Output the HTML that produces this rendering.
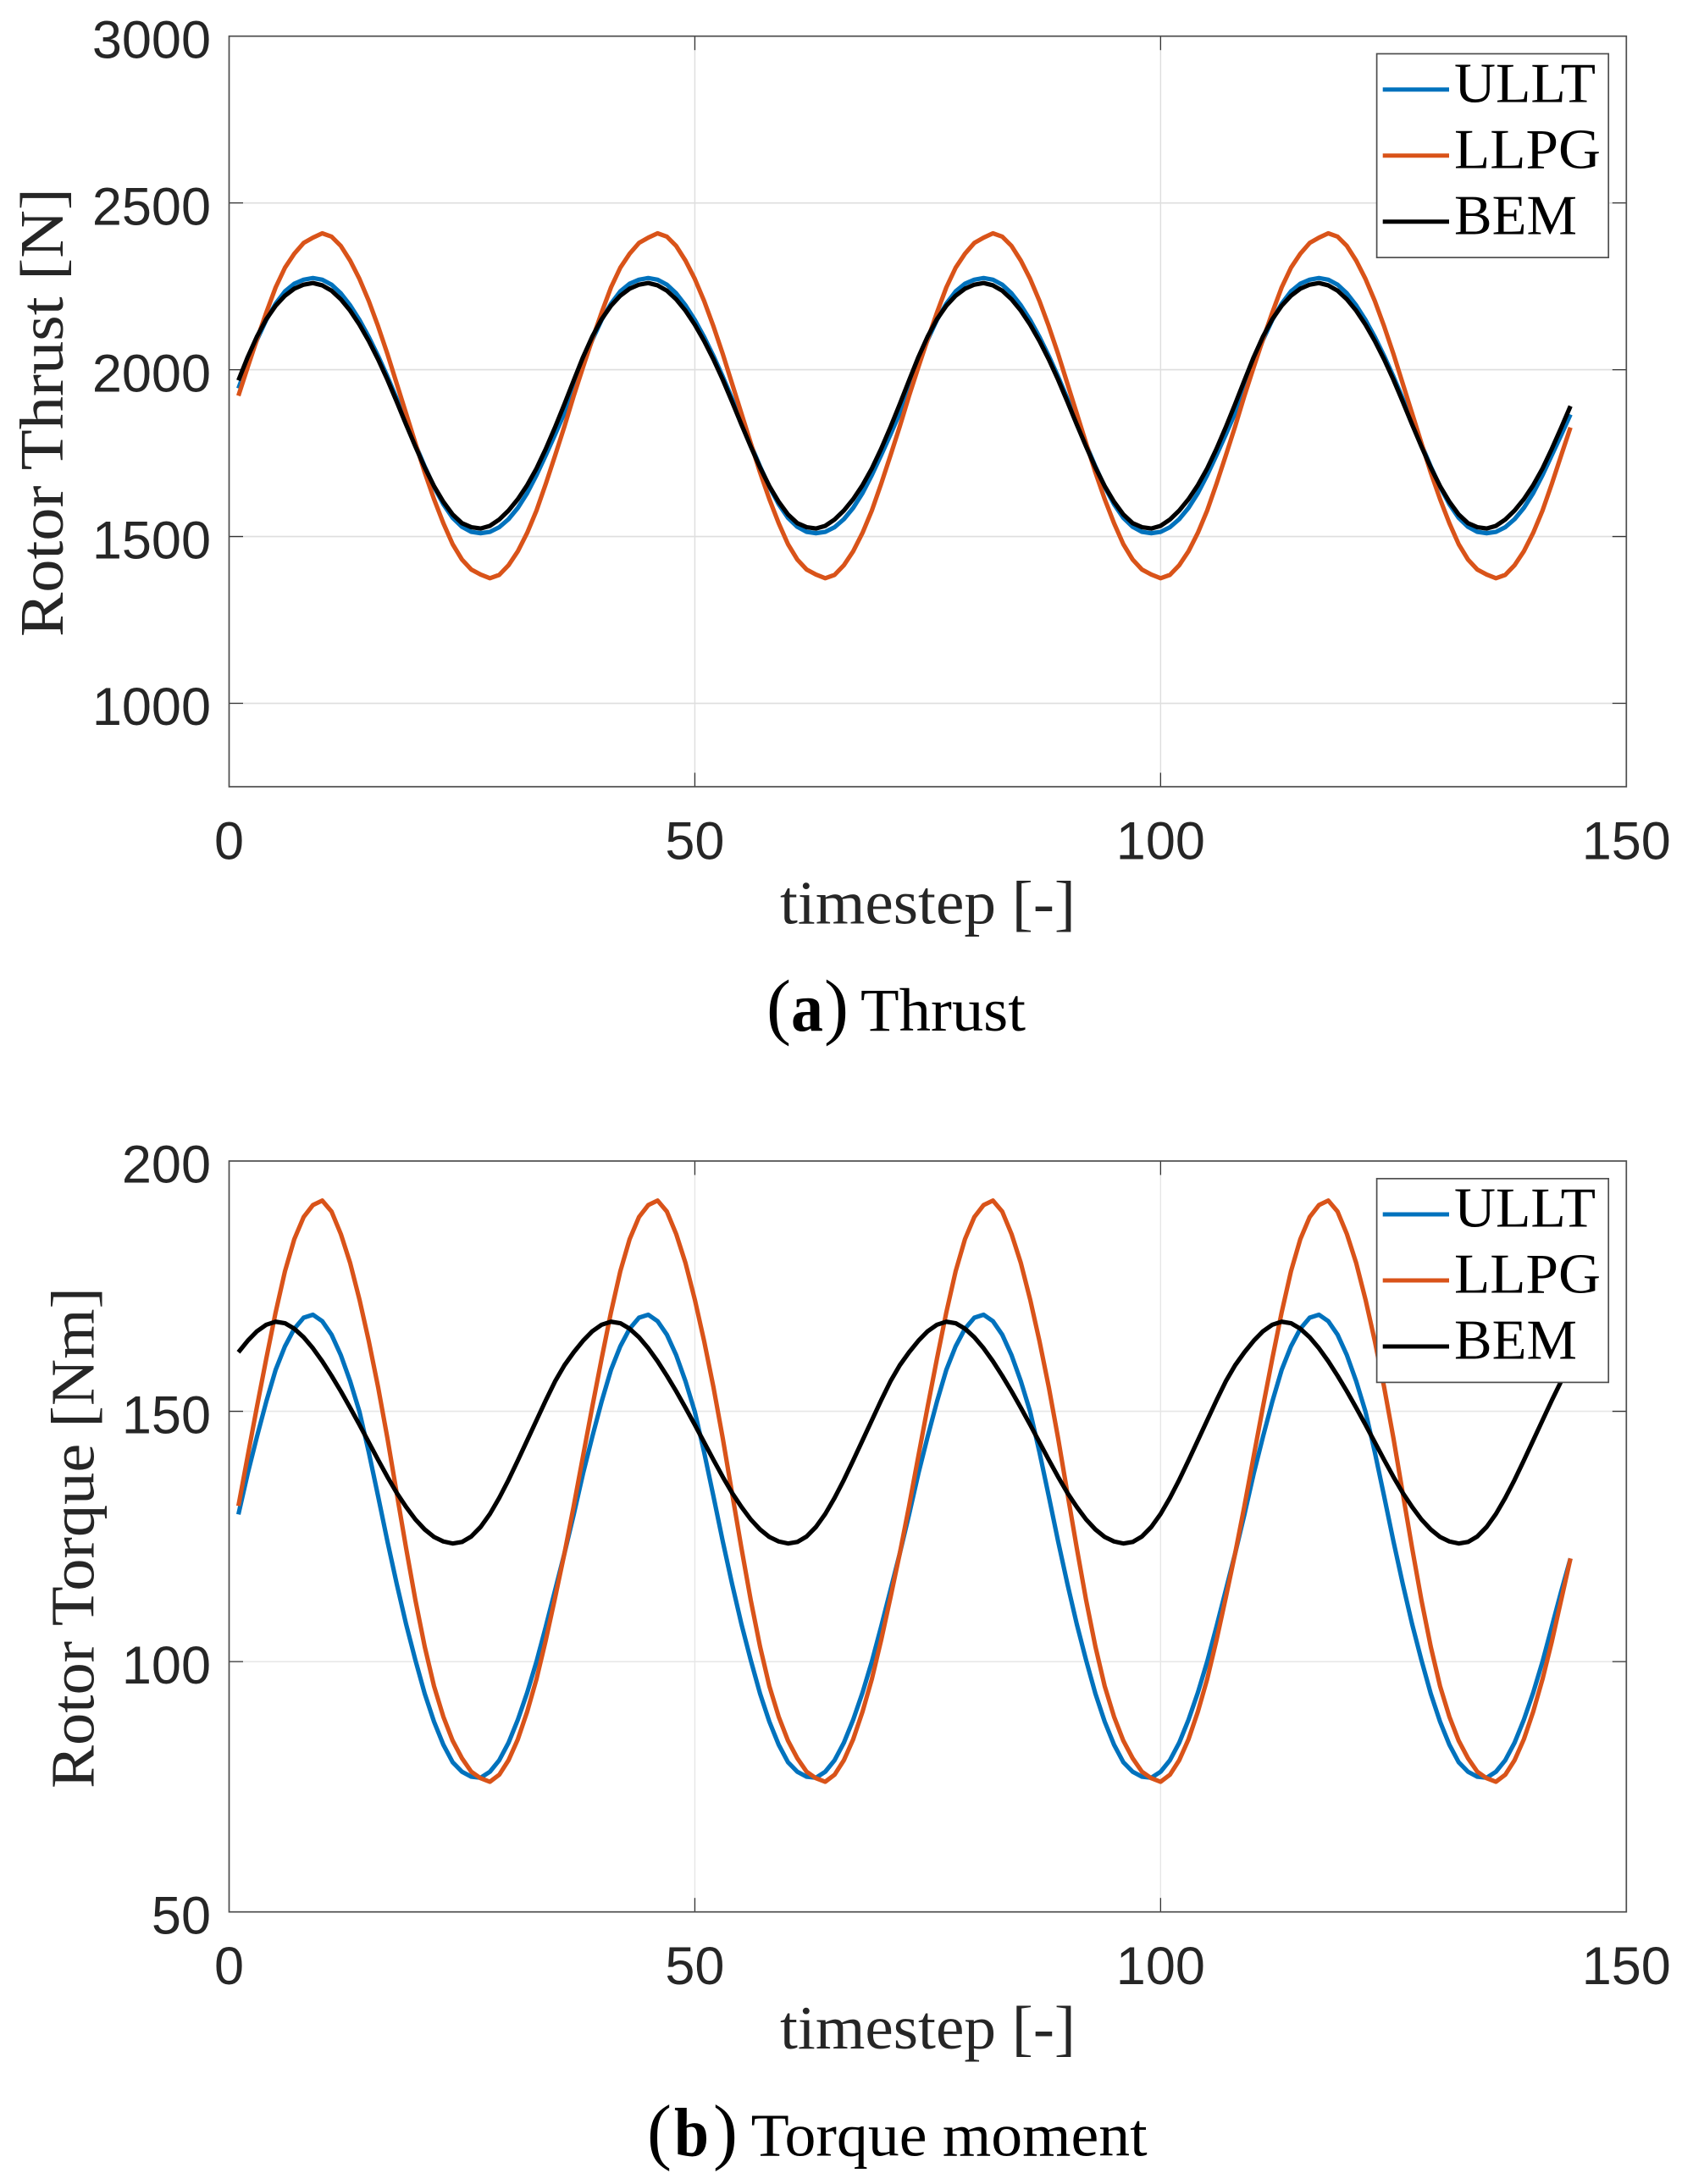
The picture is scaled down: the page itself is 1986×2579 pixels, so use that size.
<!DOCTYPE html>
<html lang="en">
<head>
<meta charset="utf-8">
<title>Rotor thrust and torque moment</title>
<style>
html,body{margin:0;padding:0;background:#fff;}
svg{display:block;}
.tick{font-family:"Liberation Sans",Arial,sans-serif;font-size:63px;fill:#262626;}
.label{font-family:"Liberation Serif","Times New Roman",serif;font-size:73px;fill:#262626;}
.legend-text{font-family:"Liberation Serif","Times New Roman",serif;font-size:67px;fill:#000;}
.caption{font-family:"Liberation Serif","Times New Roman",serif;font-size:72px;fill:#000;}
.paren{font-family:"Liberation Serif","Times New Roman",serif;font-size:87px;fill:#000;}
.letter{font-family:"Liberation Serif","Times New Roman",serif;font-size:82px;font-weight:bold;fill:#000;}
</style>
</head>
<body>
<svg id="figure" xmlns="http://www.w3.org/2000/svg" width="1986" height="2579" viewBox="0 0 1986 2579">
  <rect x="0" y="0" width="1986" height="2579" fill="#fff"/>
  <g id="panel-a"></g>
  <g id="panel-b"></g>

  <text class="label" transform="translate(74,752) rotate(-90)" textLength="530" lengthAdjust="spacingAndGlyphs">Rotor Thrust [N]</text>
  <text class="label" x="921" y="1090.7" textLength="349" lengthAdjust="spacingAndGlyphs">timestep [-]</text>
  <text class="label" transform="translate(110.7,2112) rotate(-90)" textLength="592" lengthAdjust="spacingAndGlyphs">Rotor Torque [Nm]</text>
  <text class="label" x="921" y="2419" textLength="349" lengthAdjust="spacingAndGlyphs">timestep [-]</text>

  <g>
    <text class="paren" x="905" y="1217">(</text>
    <text class="letter" x="934" y="1217" textLength="38" lengthAdjust="spacingAndGlyphs">a</text>
    <text class="paren" x="973" y="1217">)</text>
    <text class="caption" x="1016" y="1217" textLength="195" lengthAdjust="spacingAndGlyphs">Thrust</text>
  </g>
  <g>
    <text class="paren" x="764" y="2545.7">(</text>
    <text class="letter" x="796" y="2545.7" textLength="41" lengthAdjust="spacingAndGlyphs">b</text>
    <text class="paren" x="842" y="2545.7">)</text>
    <text class="caption" x="886.6" y="2545.7" textLength="468" lengthAdjust="spacingAndGlyphs">Torque moment</text>
  </g>
</svg>
<script>
const timesteps = [1,2,3,4,5,6,7,8,9,10,11,12,13,14,15,16,17,18,19,20,21,22,23,24,25,26,27,28,29,30,31,32,33,34,35,36,
37,38,39,40,41,42,43,44,45,46,47,48,49,50,51,52,53,54,55,56,57,58,59,60,61,62,63,64,65,66,67,68,69,70,71,72,
73,74,75,76,77,78,79,80,81,82,83,84,85,86,87,88,89,90,91,92,93,94,95,96,97,98,99,100,101,102,103,104,105,106,107,108,
109,110,111,112,113,114,115,116,117,118,119,120,121,122,123,124,125,126,127,128,129,130,131,132,133,134,135,136,137,138,139,140,141,142,143,144];

const thrustUllt = [
1944,2020,2090,2150,2198,2235,2258,2270,2275,2270,2255,2229,2193,2149,2098,2041,1979,1913,1845,1776,1710,1649,1597,1556,1529,1514,1510,1514,1528,1552,1586,1630,1684,1744,1806,1870,
1944,2020,2090,2150,2198,2235,2258,2270,2275,2270,2255,2229,2193,2149,2098,2041,1979,1913,1845,1776,1710,1649,1597,1556,1529,1514,1510,1514,1528,1552,1586,1630,1684,1744,1806,1870,
1944,2020,2090,2150,2198,2235,2258,2270,2275,2270,2255,2229,2193,2149,2098,2041,1979,1913,1845,1776,1710,1649,1597,1556,1529,1514,1510,1514,1528,1552,1586,1630,1684,1744,1806,1870,
1944,2020,2090,2150,2198,2235,2258,2270,2275,2270,2255,2229,2193,2149,2098,2041,1979,1913,1845,1776,1710,1649,1597,1556,1529,1514,1510,1514,1528,1552,1586,1630,1684,1744,1804,1866];

const thrustLlpg = [
1922,2008,2092,2172,2247,2306,2348,2380,2396,2409,2399,2371,2327,2272,2206,2130,2047,1958,1869,1780,1692,1612,1540,1477,1431,1401,1386,1375,1385,1414,1456,1511,1578,1658,1743,1830,
1922,2008,2092,2172,2247,2306,2348,2380,2396,2409,2399,2371,2327,2272,2206,2130,2047,1958,1869,1780,1692,1612,1540,1477,1431,1401,1386,1375,1385,1414,1456,1511,1578,1658,1743,1830,
1922,2008,2092,2172,2247,2306,2348,2380,2396,2409,2399,2371,2327,2272,2206,2130,2047,1958,1869,1780,1692,1612,1540,1477,1431,1401,1386,1375,1385,1414,1456,1511,1578,1658,1743,1830,
1922,2008,2092,2172,2247,2306,2348,2380,2396,2409,2399,2371,2327,2272,2206,2130,2047,1958,1869,1780,1692,1612,1540,1477,1431,1401,1386,1375,1385,1414,1456,1511,1578,1658,1743,1827];

const thrustBem = [
1968,2038,2100,2152,2192,2222,2243,2255,2260,2253,2237,2211,2177,2135,2086,2031,1970,1904,1836,1770,1707,1651,1604,1566,1540,1528,1524,1532,1551,1578,1612,1654,1704,1763,1828,1897,
1968,2038,2100,2152,2192,2222,2243,2255,2260,2253,2237,2211,2177,2135,2086,2031,1970,1904,1836,1770,1707,1651,1604,1566,1540,1528,1524,1532,1551,1578,1612,1654,1704,1763,1828,1897,
1968,2038,2100,2152,2192,2222,2243,2255,2260,2253,2237,2211,2177,2135,2086,2031,1970,1904,1836,1770,1707,1651,1604,1566,1540,1528,1524,1532,1551,1578,1612,1654,1704,1763,1828,1897,
1968,2038,2100,2152,2192,2222,2243,2255,2260,2253,2237,2211,2177,2135,2086,2031,1970,1904,1836,1770,1707,1651,1604,1566,1540,1528,1524,1532,1551,1578,1612,1654,1704,1763,1826,1891];

const torqueUllt = [
129.4,137.6,145,152,158.3,163,166.5,168.7,169.3,168,165.3,161.2,156,149.9,141.8,133,124,115.5,107.5,100.3,93.6,88,83.4,79.9,78,77,76.8,78,80.3,83.8,88.4,93.8,100,107,114.3,121.6,
129.4,137.6,145,152,158.3,163,166.5,168.7,169.3,168,165.3,161.2,156,149.9,141.8,133,124,115.5,107.5,100.3,93.6,88,83.4,79.9,78,77,76.8,78,80.3,83.8,88.4,93.8,100,107,114.3,121.6,
129.4,137.6,145,152,158.3,163,166.5,168.7,169.3,168,165.3,161.2,156,149.9,141.8,133,124,115.5,107.5,100.3,93.6,88,83.4,79.9,78,77,76.8,78,80.3,83.8,88.4,93.8,100,107,114.3,121.6,
129.4,137.6,145,152,158.3,163,166.5,168.7,169.3,168,165.3,161.2,156,149.9,141.8,133,124,115.5,107.5,100.3,93.6,88,83.4,79.9,78,77,76.8,78,80.3,83.8,88.4,93.8,100,107,114,120.6];

const torqueLlpg = [
131.1,141.1,151,160.6,169.8,178,184.4,188.8,191.2,192.1,189.9,185.4,179.6,172.3,164,154.8,144.6,133.6,122.7,112.3,103,95.1,89,84.2,80.7,78,76.7,76,77.4,80.3,84.5,90,96.5,104.3,112.8,121.6,
131.1,141.1,151,160.6,169.8,178,184.4,188.8,191.2,192.1,189.9,185.4,179.6,172.3,164,154.8,144.6,133.6,122.7,112.3,103,95.1,89,84.2,80.7,78,76.7,76,77.4,80.3,84.5,90,96.5,104.3,112.8,121.6,
131.1,141.1,151,160.6,169.8,178,184.4,188.8,191.2,192.1,189.9,185.4,179.6,172.3,164,154.8,144.6,133.6,122.7,112.3,103,95.1,89,84.2,80.7,78,76.7,76,77.4,80.3,84.5,90,96.5,104.3,112.8,121.6,
131.1,141.1,151,160.6,169.8,178,184.4,188.8,191.2,192.1,189.9,185.4,179.6,172.3,164,154.8,144.6,133.6,122.7,112.3,103,95.1,89,84.2,80.7,78,76.7,76,77.4,80.3,84.5,90,96.5,104,112.3,120.6];

const torqueBem = [
161.8,164.1,166,167.3,167.9,167.6,166.5,164.8,162.6,160,157.1,154,150.7,147.3,143.8,140.3,136.9,133.7,130.9,128.4,126.4,124.9,124,123.6,123.9,125,126.9,129.5,132.7,136.3,140.2,144.2,148.2,152.2,156,159.2,
161.8,164.1,166,167.3,167.9,167.6,166.5,164.8,162.6,160,157.1,154,150.7,147.3,143.8,140.3,136.9,133.7,130.9,128.4,126.4,124.9,124,123.6,123.9,125,126.9,129.5,132.7,136.3,140.2,144.2,148.2,152.2,156,159.2,
161.8,164.1,166,167.3,167.9,167.6,166.5,164.8,162.6,160,157.1,154,150.7,147.3,143.8,140.3,136.9,133.7,130.9,128.4,126.4,124.9,124,123.6,123.9,125,126.9,129.5,132.7,136.3,140.2,144.2,148.2,152.2,156,159.2,
161.8,164.1,166,167.3,167.9,167.6,166.5,164.8,162.6,160,157.1,154,150.7,147.3,143.8,140.3,136.9,133.7,130.9,128.4,126.4,124.9,124,123.6,123.9,125,126.9,129.5,132.7,136.3,140.2,144.2,148.2,152.2,156,159.2];

const xTicks = [0,50,100,150];
const thrustTicks = [1000,1500,2000,2500,3000];
const torqueTicks = [50,100,150,200];
const seriesNames = ['ULLT','LLPG','BEM'];
const seriesColors = ['#0072BD','#D95319','#000000'];

const NS = 'http://www.w3.org/2000/svg';

function make(parent, tag, attrs, text) {
  const el = document.createElementNS(NS, tag);
  for (const k in attrs) el.setAttribute(k, attrs[k]);
  if (text !== undefined) el.textContent = text;
  parent.appendChild(el);
  return el;
}

function drawPanel(parent, box, yMin, yMax, yTicks, gridColor, seriesValues, prefix) {
  const xScale = v => box.left + (v - 0) / 150 * (box.right - box.left);
  const yScale = v => box.bottom - (v - yMin) / (yMax - yMin) * (box.bottom - box.top);
  const tickLen = 16.5;

  for (const t of xTicks) {
    if (t === 0 || t === 150) continue;
    const g = make(parent, 'line', {x1:xScale(t), x2:xScale(t), y1:box.top, y2:box.bottom, stroke:gridColor, 'stroke-width':1.4});
    
    
  }
  for (const t of yTicks) {
    if (t === yMin || t === yMax) continue;
    const g = make(parent, 'line', {x1:box.left, x2:box.right, y1:yScale(t), y2:yScale(t), stroke:gridColor, 'stroke-width':1.6});
    
    
  }
  for (const t of xTicks) {
    if (t === 0 || t === 150) continue;
    const a = make(parent, 'line', {x1:xScale(t), x2:xScale(t), y1:box.bottom, y2:box.bottom - tickLen, stroke:'#333', 'stroke-width':1.3});
    
    
    const b = make(parent, 'line', {x1:xScale(t), x2:xScale(t), y1:box.top, y2:box.top + tickLen, stroke:'#333', 'stroke-width':1.3});
    
    
  }
  for (const t of yTicks) {
    if (t === yMin || t === yMax) continue;
    const a = make(parent, 'line', {x1:box.left, x2:box.left + tickLen, y1:yScale(t), y2:yScale(t), stroke:'#333', 'stroke-width':1.3});
    
    
    const b = make(parent, 'line', {x1:box.right, x2:box.right - tickLen, y1:yScale(t), y2:yScale(t), stroke:'#333', 'stroke-width':1.3});
    
    
  }

  seriesValues.forEach((vals, i) => {
    const pts = vals.map((v, j) => xScale(timesteps[j]).toFixed(2) + ',' + yScale(v).toFixed(2)).join(' ');
    const line = make(parent, 'polyline', {points:pts, fill:'none', stroke:seriesColors[i], 'stroke-width':5.2, 'stroke-linejoin':'round'});
    
    
  });

  const frame = make(parent, 'rect', {x:box.left, y:box.top, width:box.right - box.left, height:box.bottom - box.top, fill:'none', stroke:'#4d4d4d', 'stroke-width':1.7});
  
  

  for (const t of xTicks) {
    const lab = make(parent, 'text', {x:xScale(t), y:box.bottom + 85.4, 'text-anchor':'middle', class:'tick'}, String(t));
    
    
  }
  for (const t of yTicks) {
    const lab = make(parent, 'text', {x:249, y:yScale(t) + 25.7, 'text-anchor':'end', class:'tick'}, String(t));
    
    
  }

  const legend = make(parent, 'g', {});
  
  
  const legendBox = make(legend, 'rect', {x:1625.6, y:box.top + 20.8, width:273.6, height:240.6, fill:'#fff', stroke:'#4d4d4d', 'stroke-width':1.7});
  
  
  const textLens = [167, 173, 145];
  seriesNames.forEach((name, i) => {
    const rowY = box.top + 63 + i * 78;
    const swatch = make(legend, 'line', {x1:1632.7, x2:1711, y1:rowY, y2:rowY, stroke:seriesColors[i], 'stroke-width':5});
    
    
    const label = make(legend, 'text', {x:1717, y:rowY + 14.6, class:'legend-text', textLength:textLens[i], lengthAdjust:'spacingAndGlyphs'}, name);
    
    
  });
}

drawPanel(document.getElementById('panel-a'), {left:270.5, right:1920.3, top:42.7, bottom:929}, 750, 3000, thrustTicks, '#dedede', [thrustUllt, thrustLlpg, thrustBem], 'thrust');
drawPanel(document.getElementById('panel-b'), {left:270.5, right:1920.3, top:1371, bottom:2257.7}, 50, 200, torqueTicks, '#e6e6e6', [torqueUllt, torqueLlpg, torqueBem], 'torque');
</script>
</body>
</html>
